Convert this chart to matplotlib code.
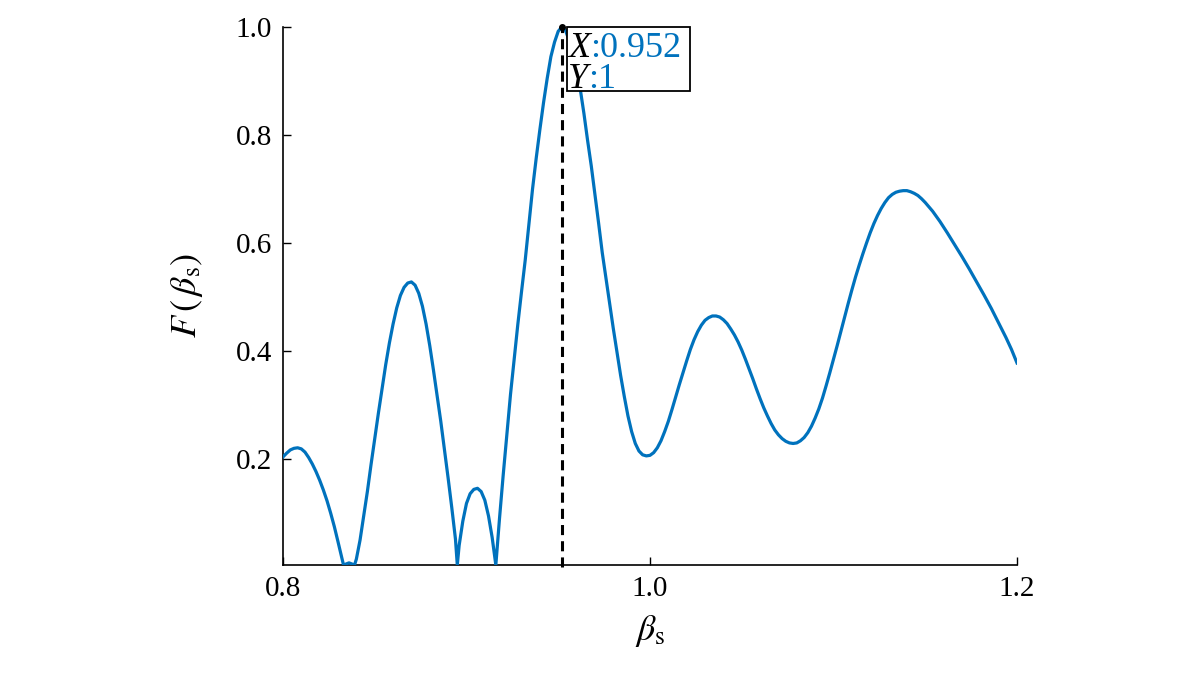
import matplotlib
matplotlib.use("Agg")
import matplotlib.pyplot as plt
from matplotlib.patches import Rectangle

beta = [0.800, 0.802, 0.804, 0.806, 0.808, 0.810, 0.812, 0.814, 0.816, 0.818,
        0.820, 0.822, 0.824, 0.826, 0.828, 0.830, 0.832, 0.833, 0.8345, 0.836,
        0.8375, 0.839, 0.840, 0.842, 0.844, 0.846, 0.848, 0.850, 0.852, 0.854,
        0.856, 0.858, 0.860, 0.862, 0.864, 0.866, 0.868, 0.870, 0.872, 0.874,
        0.876, 0.878, 0.880, 0.882, 0.884, 0.886, 0.888, 0.890, 0.892, 0.894,
        0.895, 0.896, 0.898, 0.900, 0.902, 0.904, 0.906, 0.908, 0.910, 0.912,
        0.914, 0.916, 0.918, 0.920, 0.922, 0.924, 0.926, 0.928, 0.930, 0.932,
        0.934, 0.936, 0.938, 0.940, 0.942, 0.944, 0.946, 0.948, 0.950, 0.952,
        0.954, 0.956, 0.958, 0.960, 0.962, 0.964, 0.966, 0.968, 0.970, 0.972,
        0.974, 0.976, 0.978, 0.980, 0.982, 0.984, 0.986, 0.988, 0.990, 0.992,
        0.994, 0.996, 0.998, 1.000, 1.002, 1.004, 1.006, 1.008, 1.010, 1.012,
        1.014, 1.016, 1.018, 1.020, 1.022, 1.024, 1.026, 1.028, 1.030, 1.032,
        1.034, 1.036, 1.038, 1.040, 1.042, 1.044, 1.046, 1.048, 1.050, 1.052,
        1.054, 1.056, 1.058, 1.060, 1.062, 1.064, 1.066, 1.068, 1.070, 1.072,
        1.074, 1.076, 1.078, 1.080, 1.082, 1.084, 1.086, 1.088, 1.090, 1.092,
        1.094, 1.096, 1.098, 1.100, 1.102, 1.104, 1.106, 1.108, 1.110, 1.112,
        1.114, 1.116, 1.118, 1.120, 1.122, 1.124, 1.126, 1.128, 1.130, 1.132,
        1.134, 1.136, 1.138, 1.140, 1.142, 1.144, 1.146, 1.148, 1.150, 1.154,
        1.158, 1.162, 1.166, 1.170, 1.174, 1.178, 1.182, 1.186, 1.190, 1.194,
        1.197, 1.200]
F = [0.204, 0.211, 0.217, 0.220, 0.221, 0.219, 0.213, 0.203, 0.191, 0.177,
     0.161, 0.143, 0.123, 0.100, 0.075, 0.047, 0.018, 0.004, 0.006, 0.008,
     0.006, 0.004, 0.015, 0.050, 0.095, 0.140, 0.190, 0.238, 0.285, 0.330,
     0.375, 0.415, 0.450, 0.480, 0.503, 0.518, 0.526, 0.528, 0.522, 0.507,
     0.483, 0.450, 0.410, 0.365, 0.318, 0.270, 0.218, 0.165, 0.110, 0.052,
     0.004, 0.040, 0.085, 0.118, 0.136, 0.144, 0.146, 0.140, 0.124, 0.095,
     0.055, 0.004, 0.090, 0.170, 0.245, 0.320, 0.385, 0.450, 0.510, 0.568,
     0.635, 0.700, 0.757, 0.810, 0.860, 0.905, 0.945, 0.972, 0.992, 1.000,
     0.993, 0.975, 0.950, 0.920, 0.885, 0.840, 0.790, 0.743, 0.690, 0.637,
     0.582, 0.535, 0.488, 0.442, 0.398, 0.355, 0.316, 0.280, 0.251, 0.229,
     0.215, 0.208, 0.206, 0.207, 0.212, 0.221, 0.234, 0.251, 0.270, 0.292,
     0.315, 0.338, 0.360, 0.382, 0.403, 0.421, 0.436, 0.448, 0.457, 0.462,
     0.465, 0.465, 0.463, 0.458, 0.451, 0.441, 0.430, 0.417, 0.402, 0.385,
     0.367, 0.349, 0.330, 0.312, 0.295, 0.280, 0.266, 0.254, 0.245, 0.238,
     0.233, 0.230, 0.229, 0.230, 0.234, 0.240, 0.249, 0.261, 0.276, 0.293,
     0.313, 0.336, 0.360, 0.385, 0.410, 0.436, 0.462, 0.488, 0.513, 0.537,
     0.559, 0.580, 0.600, 0.619, 0.636, 0.651, 0.664, 0.675, 0.684, 0.690,
     0.694, 0.696, 0.697, 0.697, 0.695, 0.692, 0.688, 0.682, 0.675, 0.659,
     0.640, 0.619, 0.597, 0.575, 0.552, 0.528, 0.504, 0.479, 0.452, 0.425,
     0.403, 0.378]

peak_x = 0.952
peak_y = 1.0
xticks = [0.8, 1.0, 1.2]
xtick_labels = ["0.8", "1.0", "1.2"]
yticks = [0.2, 0.4, 0.6, 0.8, 1.0]
ytick_labels = ["0.2", "0.4", "0.6", "0.8", "1.0"]

blue = "#0072BD"
plt.rcParams["font.family"] = ["Liberation Serif", "DejaVu Serif"]
plt.rcParams["mathtext.fontset"] = "stix"

fig = plt.figure(figsize=(12, 6.74), dpi=100)
ax = fig.add_axes([0.2358, 0.1617, 0.6117, 0.7983])

ax.plot(beta, F, color=blue, lw=2.3, zorder=3, solid_joinstyle="round")
ax.plot([peak_x, peak_x], [0, peak_y], color="black", lw=2.2,
        dashes=(3.3, 2.0), zorder=4, clip_on=False)
ax.plot([peak_x], [peak_y], "o", color="black", ms=4, zorder=5, clip_on=False)

ax.set_xlim(0.8, 1.2)
ax.set_ylim(0.004, 1.0)
ax.set_xticks(xticks)
ax.set_xticklabels(xtick_labels)
ax.set_yticks(yticks)
ax.set_yticklabels(ytick_labels)
ax.tick_params(direction="in", length=6, width=1, labelsize=21, pad=8)
for s in ["top", "right"]:
    ax.spines[s].set_visible(False)
for s in ["left", "bottom"]:
    ax.spines[s].set_linewidth(1.2)

ax.set_xlabel(r"$\beta_{\mathrm{s}}$", fontsize=26, labelpad=8)
ax.set_ylabel(r"$F\,(\,\beta_{\mathrm{s}})$", fontsize=26, labelpad=22)

# data tip box
box = Rectangle((0.9548, 0.8815), 1.0218 - 0.9548, 1.0 - 0.8815,
                facecolor="white", edgecolor="black", lw=1.3,
                zorder=6, clip_on=False)
ax.add_patch(box)
t1 = ax.text(0.9553, 0.944, "X", style="italic", fontsize=26, color="black",
             va="baseline", ha="left", zorder=7)
ax.annotate(":" + "0.952", xy=(1, 0), xycoords=t1, fontsize=26, color=blue,
            va="bottom", ha="left", zorder=7)
t2 = ax.text(0.9553, 0.887, "Y", style="italic", fontsize=26, color="black",
             va="baseline", ha="left", zorder=7)
ax.annotate(":" + "1", xy=(1, 0), xycoords=t2, fontsize=26, color=blue,
            va="bottom", ha="left", zorder=7)

fig.savefig("out.png", dpi=100)
